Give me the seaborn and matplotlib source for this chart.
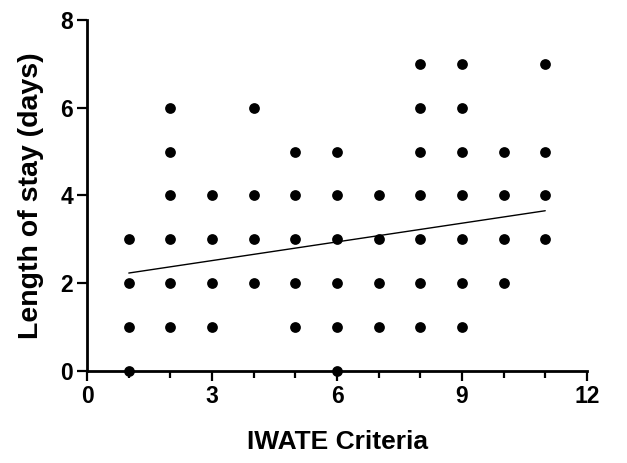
import matplotlib
matplotlib.use("Agg")
import matplotlib.pyplot as plt
import seaborn as sns
import pandas as pd
from matplotlib.ticker import MultipleLocator

sns.set_theme(style="ticks")
plt.rcParams['font.family'] = ['Liberation Sans', 'DejaVu Sans']

# data: IWATE criteria (x) and length of stay (y)
iwate = ([1]*4 + [2]*6 + [3]*4 + [4]*4 + [5]*5 + [6]*6 + [7]*4 +
         [8]*7 + [9]*7 + [10]*4 + [11]*4)
stay = ([0, 1, 2, 3] +
        [1, 2, 3, 4, 5, 6] +
        [1, 2, 3, 4] +
        [2, 3, 4, 6] +
        [1, 2, 3, 4, 5] +
        [0, 1, 2, 3, 4, 5] +
        [1, 2, 3, 4] +
        [1, 2, 3, 4, 5, 6, 7] +
        [1, 2, 3, 4, 5, 6, 7] +
        [2, 3, 4, 5] +
        [3, 4, 5, 7])
fit_x = [1, 11]
fit_y = [2.23, 3.65]

df = pd.DataFrame({"IWATE Criteria": iwate, "Length of stay (days)": stay})
fit = pd.DataFrame({"x": fit_x, "y": fit_y})

fig = plt.figure(figsize=(6.27, 4.63), dpi=100)
ax = fig.add_axes([0.139, 0.199, 0.797, 0.758])

sns.scatterplot(data=df, x="IWATE Criteria", y="Length of stay (days)", ax=ax,
                color="black", s=60, edgecolor="black", linewidth=0, clip_on=False, zorder=3)
sns.lineplot(data=fit, x="x", y="y", ax=ax, color="black", linewidth=1.0, zorder=2)

ax.set_xlim(0, 12)
ax.set_ylim(0, 8)
ax.xaxis.set_major_locator(MultipleLocator(3))
ax.xaxis.set_minor_locator(MultipleLocator(1))
ax.yaxis.set_major_locator(MultipleLocator(2))

for s in ["top", "right"]:
    ax.spines[s].set_visible(False)
for s in ["left", "bottom"]:
    ax.spines[s].set_linewidth(2)
    ax.spines[s].set_color("black")

ax.tick_params(axis="both", which="major", length=7, width=1.6, color="black",
               labelsize=16.5, labelcolor="black", pad=3)
ax.tick_params(axis="x", which="minor", length=5, width=1.6, color="black")
for lab in ax.get_xticklabels() + ax.get_yticklabels():
    lab.set_fontweight("bold")

ax.set_xlabel("IWATE Criteria", fontsize=19, fontweight="bold", labelpad=16, color="black")
ax.set_ylabel("Length of stay (days)", fontsize=20.5, fontweight="bold", labelpad=12, color="black")

fig.savefig("out.png", dpi=100)
